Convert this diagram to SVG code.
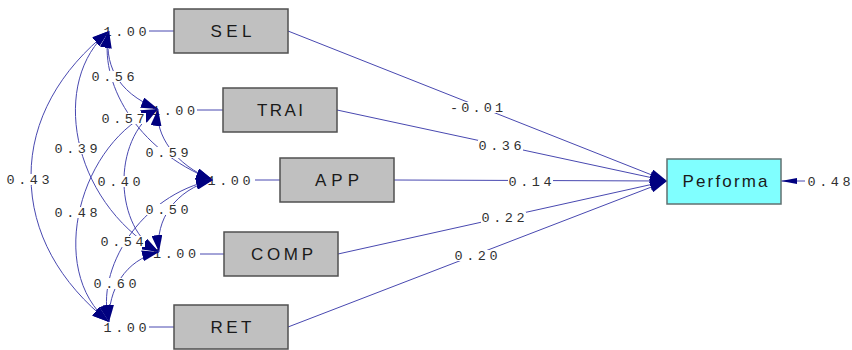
<svg xmlns="http://www.w3.org/2000/svg" width="852" height="350" viewBox="0 0 852 350">
<style>
.box{fill:#c0c0c0;stroke:#505050;stroke-width:1.5}
.out{fill:#80ffff;stroke:#607070;stroke-width:1.5}
.lbl{font-family:"Liberation Sans",Arial,sans-serif;font-size:17px;fill:#1a1a1a;text-anchor:middle}
.num{font-family:"Liberation Mono","DejaVu Sans Mono",monospace;font-size:13.5px;fill:#303030}
.ln{fill:none;stroke:#4848b0;stroke-width:1}
.cov{fill:none;stroke:#4848b0;stroke-width:1;marker-start:url(#ah);marker-end:url(#ah)}
.path{fill:none;stroke:#4848b0;stroke-width:1;marker-end:url(#ah)}
.bg{fill:#ffffff}
</style>
<defs>
<marker id="ah" viewBox="0 0 17 11" refX="17" refY="5.5" markerWidth="17" markerHeight="11" markerUnits="userSpaceOnUse" orient="auto-start-reverse"><path d="M0,0 L17,5.5 L0,11 z" fill="#000080"/></marker>
<marker id="ahs" viewBox="0 0 16 6" refX="16" refY="3" markerWidth="16" markerHeight="6" markerUnits="userSpaceOnUse" orient="auto"><path d="M0,0 L16,3 L0,6 z" fill="#000080"/></marker>
</defs>
<rect width="852" height="350" fill="#ffffff"/>

<g id="variances">
<line class="ln" x1="149" y1="31" x2="174" y2="31"/>
<text class="num" x="103.5" y="35.5" textLength="43" lengthAdjust="spacing">1.00</text>
<line class="ln" x1="197" y1="110" x2="223" y2="110"/>
<text class="num" x="152" y="114.5" textLength="43" lengthAdjust="spacing">1.00</text>
<line class="ln" x1="255" y1="180" x2="280" y2="180"/>
<text class="num" x="207.5" y="184.5" textLength="43" lengthAdjust="spacing">1.00</text>
<line class="ln" x1="200" y1="254" x2="224" y2="254"/>
<text class="num" x="153" y="257.5" textLength="43" lengthAdjust="spacing">1.00</text>
<line class="ln" x1="149" y1="327" x2="174" y2="327"/>
<text class="num" x="103.5" y="331.5" textLength="43" lengthAdjust="spacing">1.00</text>
</g>

<g id="connectors">
<path class="cov" d="M109,31 C104,62 115,92 158,109"/>
<path class="cov" d="M109,31 C98,80 135,150 213,180"/>
<path class="cov" d="M158,109 C155,135 175,165 213,180"/>
<path class="cov" d="M109,31 C50,80 70,200 159,252"/>
<path class="cov" d="M109,31 C60,70 31,120 31,176 C31,233 60,283 109,322"/>
<path class="cov" d="M158,109 C80,140 45,270 109,322"/>
<path class="cov" d="M158,109 C110,140 115,230 159,252"/>
<path class="cov" d="M213,180 C175,190 155,220 159,252"/>
<path class="cov" d="M213,180 C140,195 95,270 109,322"/>
<path class="cov" d="M159,252 C125,260 108,290 109,322"/>

<path class="path" d="M288,31 L667,181"/>
<path class="path" d="M337,110 L667,181"/>
<path class="path" d="M394,180 L667,181"/>
<path class="path" d="M338,254 L667,181"/>
<path class="path" d="M288,327 L667,181"/>
<path fill="none" stroke="#4848b0" stroke-width="1" marker-end="url(#ahs)" d="M805,181 L781,181"/>

<g id="labels">
<rect class="bg" x="91" y="71" width="45" height="11"/><text class="num" x="91.5" y="80.5" textLength="43" lengthAdjust="spacing">0.56</text>
<rect class="bg" x="101" y="113" width="45" height="11"/><text class="num" x="101.5" y="122.5" textLength="43" lengthAdjust="spacing">0.57</text>
<rect class="bg" x="145" y="147" width="45" height="11"/><text class="num" x="145.5" y="156.5" textLength="43" lengthAdjust="spacing">0.59</text>
<rect class="bg" x="54" y="143" width="45" height="11"/><text class="num" x="54.5" y="152.5" textLength="43" lengthAdjust="spacing">0.39</text>
<rect class="bg" x="97" y="176" width="45" height="11"/><text class="num" x="97.5" y="185.5" textLength="43" lengthAdjust="spacing">0.40</text>
<rect class="bg" x="54" y="207" width="45" height="11"/><text class="num" x="54.5" y="216.5" textLength="43" lengthAdjust="spacing">0.48</text>
<rect class="bg" x="145" y="204" width="45" height="11"/><text class="num" x="145.5" y="213.5" textLength="43" lengthAdjust="spacing">0.50</text>
<rect class="bg" x="100" y="236" width="45" height="11"/><text class="num" x="100.5" y="245.5" textLength="43" lengthAdjust="spacing">0.54</text>
<rect class="bg" x="93" y="278" width="45" height="11"/><text class="num" x="93.5" y="287.5" textLength="43" lengthAdjust="spacing">0.60</text>
<rect class="bg" x="6" y="174" width="45" height="11"/><text class="num" x="6.5" y="183.5" textLength="43" lengthAdjust="spacing">0.43</text>
<rect class="bg" x="449" y="102" width="56" height="11"/><text class="num" x="450" y="111.5" textLength="53" lengthAdjust="spacing">-0.01</text>
<rect class="bg" x="478" y="140" width="45" height="11"/><text class="num" x="478.5" y="149.5" textLength="43" lengthAdjust="spacing">0.36</text>
<rect class="bg" x="508" y="176" width="45" height="11"/><text class="num" x="508.5" y="185.5" textLength="43" lengthAdjust="spacing">0.14</text>
<rect class="bg" x="481" y="212" width="45" height="11"/><text class="num" x="481.5" y="221.5" textLength="43" lengthAdjust="spacing">0.22</text>
<rect class="bg" x="454" y="250" width="45" height="11"/><text class="num" x="454.5" y="259.5" textLength="43" lengthAdjust="spacing">0.20</text>
<rect class="bg" x="806" y="176" width="45" height="11"/><text class="num" x="807.5" y="185.5" textLength="43" lengthAdjust="spacing">0.48</text>
</g>
</g>

<g id="SEL"><rect class="box" x="174" y="9" width="114" height="44"/><text class="lbl" x="231" y="37" textLength="41" lengthAdjust="spacing">SEL</text></g>
<g id="TRAI"><rect class="box" x="223" y="88" width="114" height="44"/><text class="lbl" x="280" y="116" textLength="46" lengthAdjust="spacing">TRAI</text></g>
<g id="APP"><rect class="box" x="280" y="158" width="114" height="44"/><text class="lbl" x="337" y="186" textLength="44" lengthAdjust="spacing">APP</text></g>
<g id="COMP"><rect class="box" x="224" y="232" width="114" height="44"/><text class="lbl" x="282" y="260" textLength="62" lengthAdjust="spacing">COMP</text></g>
<g id="RET"><rect class="box" x="174" y="305" width="114" height="44"/><text class="lbl" x="231" y="333" textLength="41" lengthAdjust="spacing">RET</text></g>
<g id="Performa"><rect class="out" x="667" y="159" width="114" height="45"/><text class="lbl" x="725" y="187" textLength="85" lengthAdjust="spacing">Performa</text></g>
</svg>
